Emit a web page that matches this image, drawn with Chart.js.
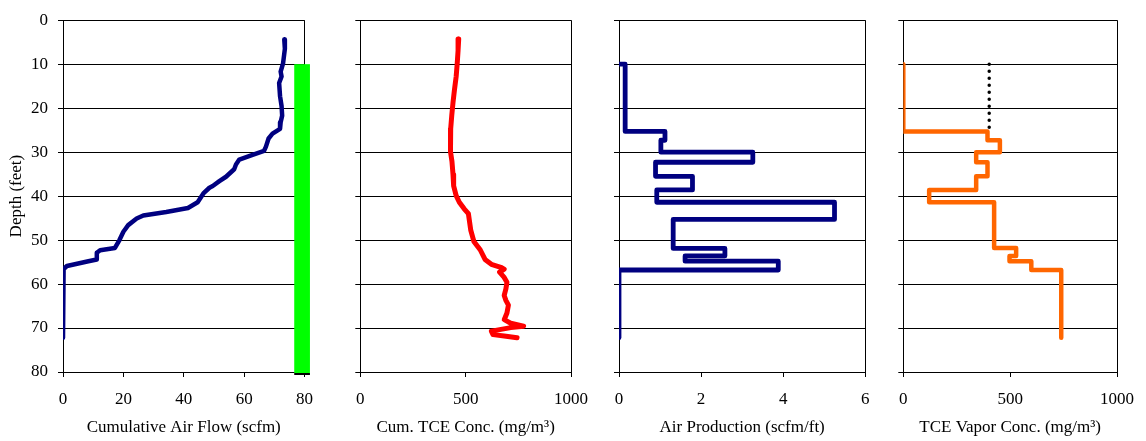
<!DOCTYPE html>
<html>
<head>
<meta charset="utf-8">
<script src="https://cdn.jsdelivr.net/npm/chart.js@4.4.1/dist/chart.umd.min.js"></script>
<style>
  html, body { margin: 0; padding: 0; background: #fff; }
  #wrap { position: relative; width: 1146px; height: 441px; overflow: hidden; background: #fff; }
  #wrap canvas { position: absolute; top: 0; }
</style>
</head>
<body>
<div id="wrap">
  <canvas id="flow"></canvas>
  <canvas id="cumConc"></canvas>
  <canvas id="production"></canvas>
  <canvas id="vapor"></canvas>
</div>
<script>
// ---- Profile data (depth in feet below ground) ----

// Cumulative air flow profile
const flowDepth = [4.4, 6.5, 9.8, 11.7, 12.8, 14.3, 17.3, 19.5, 21.7, 23.2, 24.7, 25.8, 26.9, 28.8, 29.7,
  30.6, 31.7, 32.8, 33.9, 35.6, 36.6, 37.7, 38.1, 39.4, 41.4, 42.7, 43.6, 44.4, 45.1, 46.6, 48.1,
  50.0, 51.8, 52.3, 52.9, 54.4, 54.8, 55.9, 56.6, 58.8, 65.0, 72.2];
const flowCum = [73.3, 73.5, 72.9, 72.1, 72.4, 71.6, 71.9, 72.4, 72.6, 72.1, 71.9, 69.4, 68.1, 67.2, 66.6,
  62.8, 58.4, 57.3, 56.7, 54.0, 51.8, 49.6, 48.5, 46.5, 44.6, 41.4, 34.2, 26.6, 24.4, 21.6, 20.0,
  18.7, 17.2, 12.3, 11.2, 11.2, 8.4, 1.3, 0.2, 0, 0, 0];

// Screened interval of the well (depth range, and its band on the flow axis)
const screenDepth = [10, 80];
const screenBand = [76.6, 81.8];

// Cumulative TCE concentration profile
const cumDepth = [4.3, 6.9, 9.8, 12.8, 15.8, 18.7, 21.7, 24.7, 26.9, 29.9, 32.1, 35.1, 37.7, 39.9, 41.4,
  42.9, 44.0, 47.7, 50.3, 52.2, 54.4, 55.5, 56.2, 56.6, 57.3, 58.5, 59.6, 61.1, 62.6, 63.7, 64.8,
  66.6, 68.1, 68.9, 69.6, 69.9, 70.7, 71.5, 71.8, 72.2];
const cumTce = [467, 464, 460, 455, 447, 440, 434, 429, 428, 428, 435, 440, 443, 455, 470,
  493, 513, 524, 539, 569, 592, 622, 667, 683, 661, 683, 696, 691, 683, 691, 703,
  696, 683, 714, 775, 714, 622, 630, 683, 744];

// Air production per foot: interval bottoms and values (stepped profile)
const prodBottom = [10, 25.3, 27.3, 30, 32.3, 35.5, 38.6, 41.4, 45.3, 51.9, 53.6, 54.8, 56.8, 72.2];
const prodRate = [0, 0.15, 1.12, 1.02, 3.26, 0.89, 1.79, 0.92, 5.25, 1.32, 2.58, 1.61, 3.88, 0];

// TCE vapor concentration: interval bottoms and values (stepped profile)
const vaporBottom = [10, 25.3, 27.3, 30, 32.3, 35.5, 38.6, 41.4, 51.8, 53.6, 54.8, 56.8, 72.2];
const vaporConc = [0, 0, 394, 452, 341, 394, 341, 121, 425, 528, 497, 599, 739];

// Estimated vapor concentration above the first measured interval
const estDepth = [10, 25.3];
const estConc = [402, 402];

// Axis tick settings
const depthRange = [0, 80];
const depthStep = 10;
const flowTicks = { min: 0, max: 80, step: 20 };
const cumTicks = { min: 0, max: 1000, step: 500 };
const prodTicks = { min: 0, max: 6, step: 2 };
const vaporTicks = { min: 0, max: 1000, step: 500 };

// ---- Drawing ----
const FONT = "'Liberation Serif', 'Times New Roman', serif";
const INK = '#000';

function pts(xs, ys) { return xs.map((x, i) => ({ x: x, y: ys[i] })); }

function depthAxis(showLabels, width) {
  return {
    type: 'linear', reverse: true, min: depthRange[0], max: depthRange[1],
    ticks: {
      stepSize: depthStep, padding: 10, color: INK,
      font: { family: FONT, size: 17 },
      callback: v => showLabels ? String(v) : ''
    },
    grid: { color: INK, lineWidth: 1, tickLength: 5, tickColor: INK },
    border: { color: INK, width: 1 },
    title: {
      display: showLabels, text: 'Depth (feet)', color: INK,
      font: { family: FONT, size: 17 }, padding: { top: 6, bottom: 0 }
    },
    afterFit: s => { s.width = width; }
  };
}

function valueAxis(t, label) {
  return {
    type: 'linear', min: t.min, max: t.max,
    ticks: {
      stepSize: t.step, padding: 12, color: INK, font: { family: FONT, size: 17 },
      callback: v => String(v)
    },
    grid: {
      lineWidth: 1, tickLength: 5, tickColor: INK,
      color: c => (c.tick && c.tick.value === t.max) ? INK : 'rgba(0,0,0,0)'
    },
    border: { color: INK, width: 1 },
    title: {
      display: true, text: label, color: INK,
      font: { family: FONT, size: 17 }, padding: { top: 0, bottom: 3 }
    },
    afterFit: s => { s.height = 69; }
  };
}

// Screened interval drawn as a filled band on the flow panel, placed through the chart scales
const screenPlugin = {
  id: 'screenBand',
  afterDatasetsDraw(chart) {
    const xs = chart.scales.x, ys = chart.scales.y, ctx = chart.ctx;
    const x0 = xs.getPixelForValue(screenBand[0]);
    const x1 = xs.getPixelForValue(screenBand[1]);
    const y0 = ys.getPixelForValue(screenDepth[0]);
    const y1 = ys.getPixelForValue(screenDepth[1]);
    ctx.save();
    ctx.fillStyle = '#00FF00';
    ctx.fillRect(x0, y0, x1 - x0, y1 - y0 + 1);
    ctx.fillStyle = INK;
    ctx.fillRect(x0, y1 + 1, x1 - x0, 2);
    ctx.restore();
  }
};

function makePanel(id, box, xTicks, xLabel, datasets, plugins) {
  const cv = document.getElementById(id);
  cv.width = box.width;
  cv.height = 441;
  cv.style.left = box.left + 'px';
  cv.style.width = box.width + 'px';
  cv.style.height = '441px';
  return new Chart(cv, {
    type: 'line',
    data: { datasets: datasets },
    plugins: plugins || [],
    options: {
      responsive: false,
      animation: false,
      devicePixelRatio: 1,
      layout: { padding: { top: 12.5, right: box.padRight, left: 0, bottom: 0 } },
      plugins: { legend: { display: false }, tooltip: { enabled: false } },
      elements: { point: { radius: 0, hoverRadius: 0 } },
      scales: {
        x: valueAxis(xTicks, xLabel),
        y: depthAxis(box.showDepth, box.yWidth)
      }
    }
  });
}

function profileLine(data, color, width, extra) {
  return Object.assign({
    data: data, borderColor: color, backgroundColor: color, borderWidth: width,
    pointRadius: 0, fill: false, tension: 0,
    borderJoinStyle: 'round', borderCapStyle: 'round'
  }, extra || {});
}

makePanel('flow', { left: 0, width: 325, yWidth: 63, padRight: 19.7, showDepth: true },
  flowTicks, 'Cumulative Air Flow (scfm)', [
    profileLine(pts(flowCum, flowDepth), '#000080', 4.5)
  ], [screenPlugin]);

makePanel('cumConc', { left: 315, width: 285, yWidth: 45.3, padRight: 20.7, showDepth: false },
  cumTicks, 'Cum. TCE Conc. (mg/m³)', [
    profileLine(pts(cumTce, cumDepth), '#FF0000', 5)
  ]);

makePanel('production', { left: 590, width: 295, yWidth: 29, padRight: 19.7, showDepth: false },
  prodTicks, 'Air Production (scfm/ft)', [
    profileLine(pts(prodRate, prodBottom), '#000080', 4.8, { stepped: 'before' })
  ]);

makePanel('vapor', { left: 870, width: 276, yWidth: 33.3, padRight: 23, showDepth: false },
  vaporTicks, 'TCE Vapor Conc. (mg/m³)', [
    profileLine(pts(estConc, estDepth), '#000', 3.5, { borderDash: [0, 7], borderCapStyle: 'round' }),
    profileLine(pts(vaporConc, vaporBottom), '#FF6600', 4.5, { stepped: 'before' })
  ]);
</script>
</body>
</html>
